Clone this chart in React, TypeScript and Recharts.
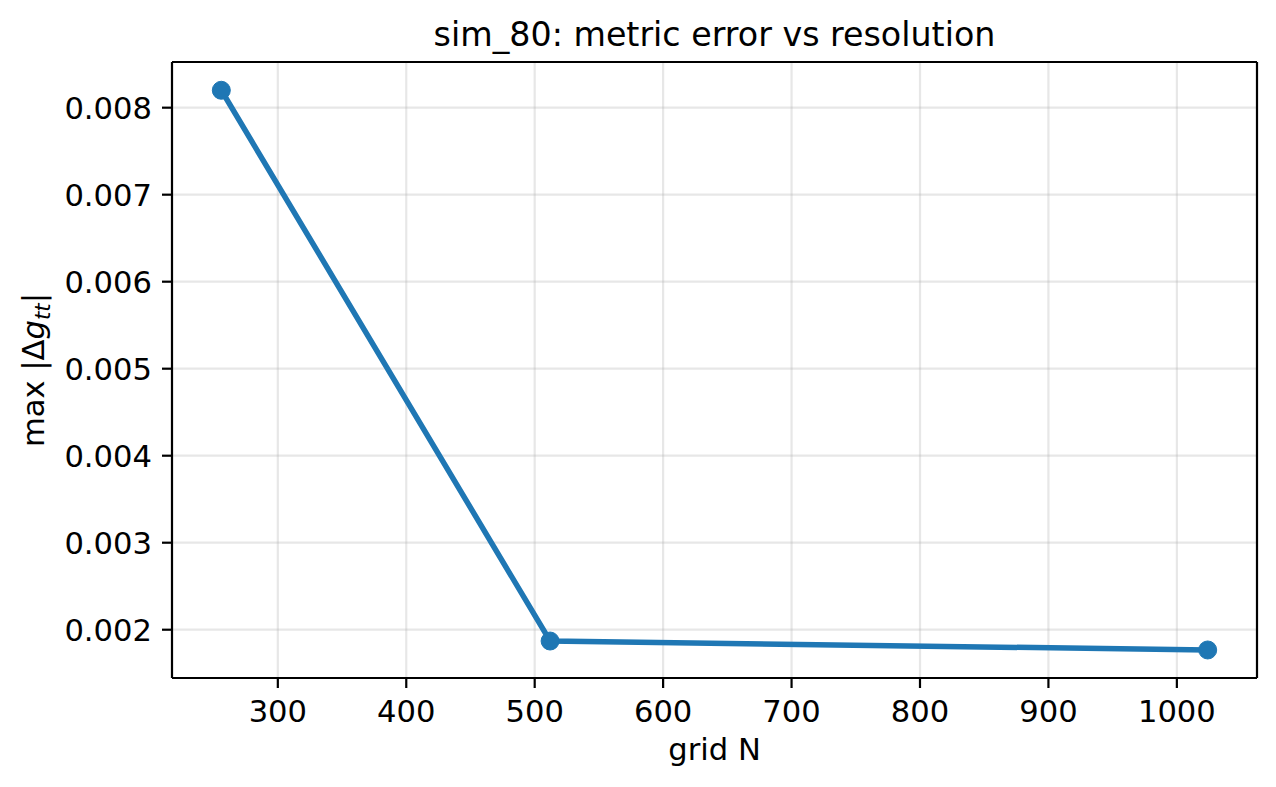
import { CartesianGrid, Line, LineChart, ReferenceLine, XAxis, YAxis } from 'recharts';

const gridN = [256, 512, 1024];
const maxErr = [0.0082, 0.00187, 0.001767];
const xTicks = [300, 400, 500, 600, 700, 800, 900, 1000];
const yTicks = [0.002, 0.003, 0.004, 0.005, 0.006, 0.007, 0.008];

const data = gridN.map((n, i) => ({ n, err: maxErr[i] }));

const FONT = "'DejaVu Sans', sans-serif";
const BLUE = '#1f77b4';
const FS = 30.6;
const xDomain = [217.6, 1062.4];
const yDomain = [0.001445, 0.008525];

function YLabel() {
  return (
    <text
      x={44}
      y={370}
      transform="rotate(-90, 44, 370)"
      textAnchor="middle"
      fontFamily={FONT}
      fontSize={FS}
      fill="#000"
    >
      max |Δ<tspan fontStyle="italic">g</tspan>
      <tspan fontStyle="italic" fontSize={21.4} dy={6}>tt</tspan>
      <tspan dy={-6}>|</tspan>
    </text>
  );
}

export default function App() {
  const tickStyle = { fontFamily: FONT, fontSize: FS, fill: '#000' };
  return (
    <div style={{ position: 'absolute', left: 0, top: 0, width: 1276, height: 787, background: '#fff' }}>
      <svg width={1276} height={787} style={{ position: 'absolute', left: 0, top: 0, pointerEvents: 'none' }}>
        <text x={714.5} y={45.5} textAnchor="middle" fontFamily={FONT} fontSize={33.3} fill="#000">
          sim_80: metric error vs resolution
        </text>
        <text x={714.5} y={760} textAnchor="middle" fontFamily={FONT} fontSize={FS} fill="#000">
          grid N
        </text>
        <YLabel />
      </svg>
      <LineChart
        width={1276}
        height={787}
        data={data}
        margin={{ top: 62, right: 19, bottom: 0, left: 0 }}
        style={{ position: 'absolute', left: 0, top: 0 }}
      >
        <CartesianGrid stroke="#b0b0b0" strokeOpacity={0.3} strokeWidth={2.2} />
        <XAxis
          dataKey="n"
          type="number"
          domain={xDomain}
          ticks={xTicks}
          allowDataOverflow
          height={109}
          tick={tickStyle}
          tickSize={10}
          tickMargin={12}
          stroke="#000"
          strokeWidth={2.2}
          tickLine={{ stroke: '#000', strokeWidth: 2.2 }}
        />
        <YAxis
          type="number"
          domain={yDomain}
          ticks={yTicks}
          allowDataOverflow
          width={172}
          tick={tickStyle}
          tickFormatter={(v: number) => v.toFixed(3)}
          tickSize={10}
          tickMargin={10}
          stroke="#000"
          strokeWidth={2.2}
          tickLine={{ stroke: '#000', strokeWidth: 2.2 }}
        />
        <ReferenceLine y={yDomain[1]} stroke="#000" strokeWidth={2.2} ifOverflow="visible" />
        <ReferenceLine x={xDomain[1]} stroke="#000" strokeWidth={2.2} ifOverflow="visible" />
        <Line
          dataKey="err"
          stroke={BLUE}
          strokeWidth={5.5}
          dot={{ r: 9, fill: BLUE, stroke: BLUE, strokeWidth: 1 }}
          activeDot={false}
          isAnimationActive={false}
        />
      </LineChart>
    </div>
  );
}
